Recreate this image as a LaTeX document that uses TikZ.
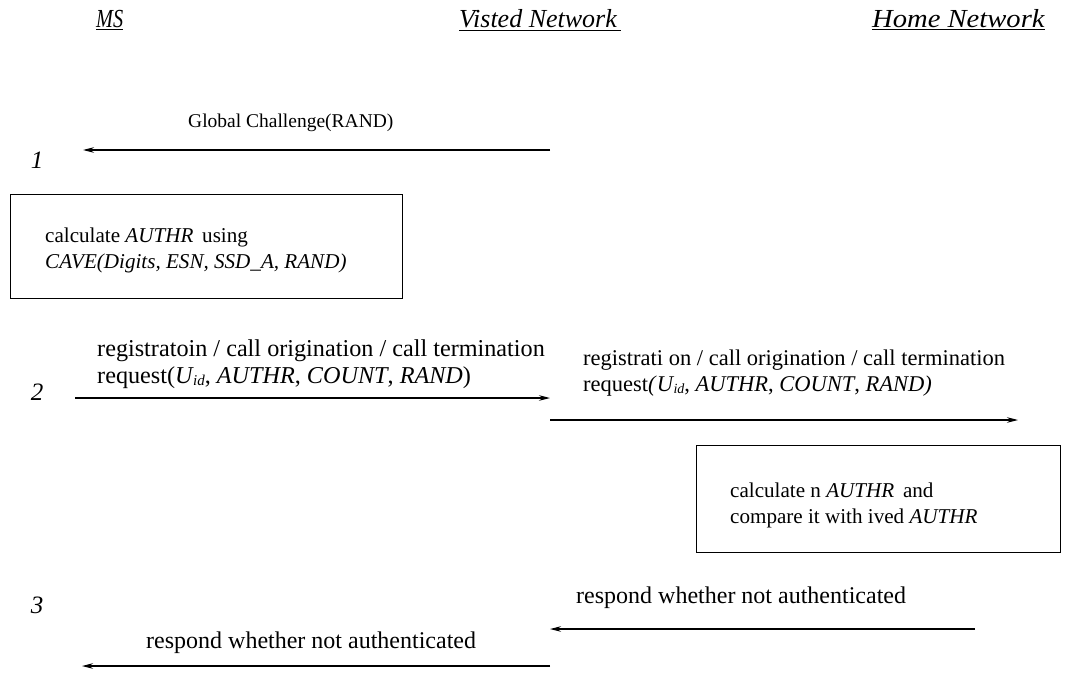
\documentclass[tikz,border=0pt]{standalone}
\usepackage{fontspec}
\setmainfont{Liberation Serif}
\usetikzlibrary{arrows.meta}
\newcommand{\uid}[1]{\textit{U\kern0.5pt\raisebox{-2.5pt}{\fontsize{#1}{#1}\selectfont id}}}
\begin{document}
\begin{tikzpicture}[x=1pt,y=1pt,
  lbl/.style={anchor=base west,inner sep=0pt,align=left},
  hdr/.style={anchor=base west,inner sep=0pt,font=\fontsize{26}{30}\selectfont\itshape},
  num/.style={anchor=base,inner sep=0pt,font=\fontsize{25}{28}\selectfont\itshape},
  msg/.style={line width=1.2pt,-{Stealth[length=11pt,width=5.5pt]}},
  boxnode/.style={draw,line width=1pt,anchor=north west,inner sep=0pt}]
\useasboundingbox (0,0) rectangle (1065,-674);
% headers
\node[hdr] (ms) at (96,-28) {\scalebox{0.78}[1]{\underline{MS}}};
\node[hdr] (vn) at (459,-28) {\underline{Visted Network\,}};
\node[hdr] (hn) at (872,-28) {\scalebox{1.1}[1]{\underline{Home Network}}};
% step numbers
\node[num] (n1) at (37,-168) {1};
\node[num] (n2) at (37,-400) {2};
\node[num] (n3) at (37,-613) {3};
% message 1
\coordinate (a1s) at (550,-150);
\coordinate (a1e) at (83,-150);
\draw[msg] (a1s) -- (a1e);
\node[lbl,font=\fontsize{19.5}{26}\selectfont] (l1) at (188,-128) {Global Challenge(RAND)};
% box 1
\node[boxnode,minimum width=392pt,minimum height=104pt] (b1) at (10,-194) {};
\node[lbl,font=\fontsize{21.1}{26}\selectfont] (t1) at (45,-268)
  {calculate \textit{AUTHR}\, using\\ \textit{CAVE(Digits, ESN, SSD\_A, RAND)}};
% message 2a
\coordinate (a2s) at (75,-398);
\coordinate (a2e) at (550,-398);
\draw[msg] (a2s) -- (a2e);
\node[lbl,font=\fontsize{24.2}{27}\selectfont] (l2a) at (97,-383)
  {registratoin / call origination / call termination\\ request(\uid{15}, \textit{AUTHR}, \textit{COUNT}, \textit{RAND})};
% message 2b
\coordinate (a2bs) at (550,-420);
\coordinate (a2be) at (1018,-420);
\draw[msg] (a2bs) -- (a2be);
\node[lbl,font=\fontsize{22.5}{26}\selectfont] (l2b) at (583,-391)
  {registrati on / call origination / call termination\\ request\textit{(}\uid{14}, \textit{AUTHR}, \textit{COUNT}, \textit{RAND)}};
% box 2
\node[boxnode,minimum width=364pt,minimum height=107pt] (b2) at (696,-445) {};
\node[lbl,font=\fontsize{21.1}{26}\selectfont] (t2) at (730,-523)
  {calculate n \textit{AUTHR}\, and\\ compare it with ived \textit{AUTHR}};
% message 3a
\coordinate (a3s) at (975,-629);
\coordinate (a3e) at (550,-629);
\draw[msg] (a3s) -- (a3e);
\node[lbl,font=\fontsize{24}{26}\selectfont] (l3a) at (576,-603) {respond whether not authenticated};
% message 3b
\coordinate (a3bs) at (550,-666);
\coordinate (a3be) at (82,-666);
\draw[msg] (a3bs) -- (a3be);
\node[lbl,font=\fontsize{24}{26}\selectfont] (l3b) at (146,-648) {respond whether not authenticated};
\end{tikzpicture}
\end{document}
